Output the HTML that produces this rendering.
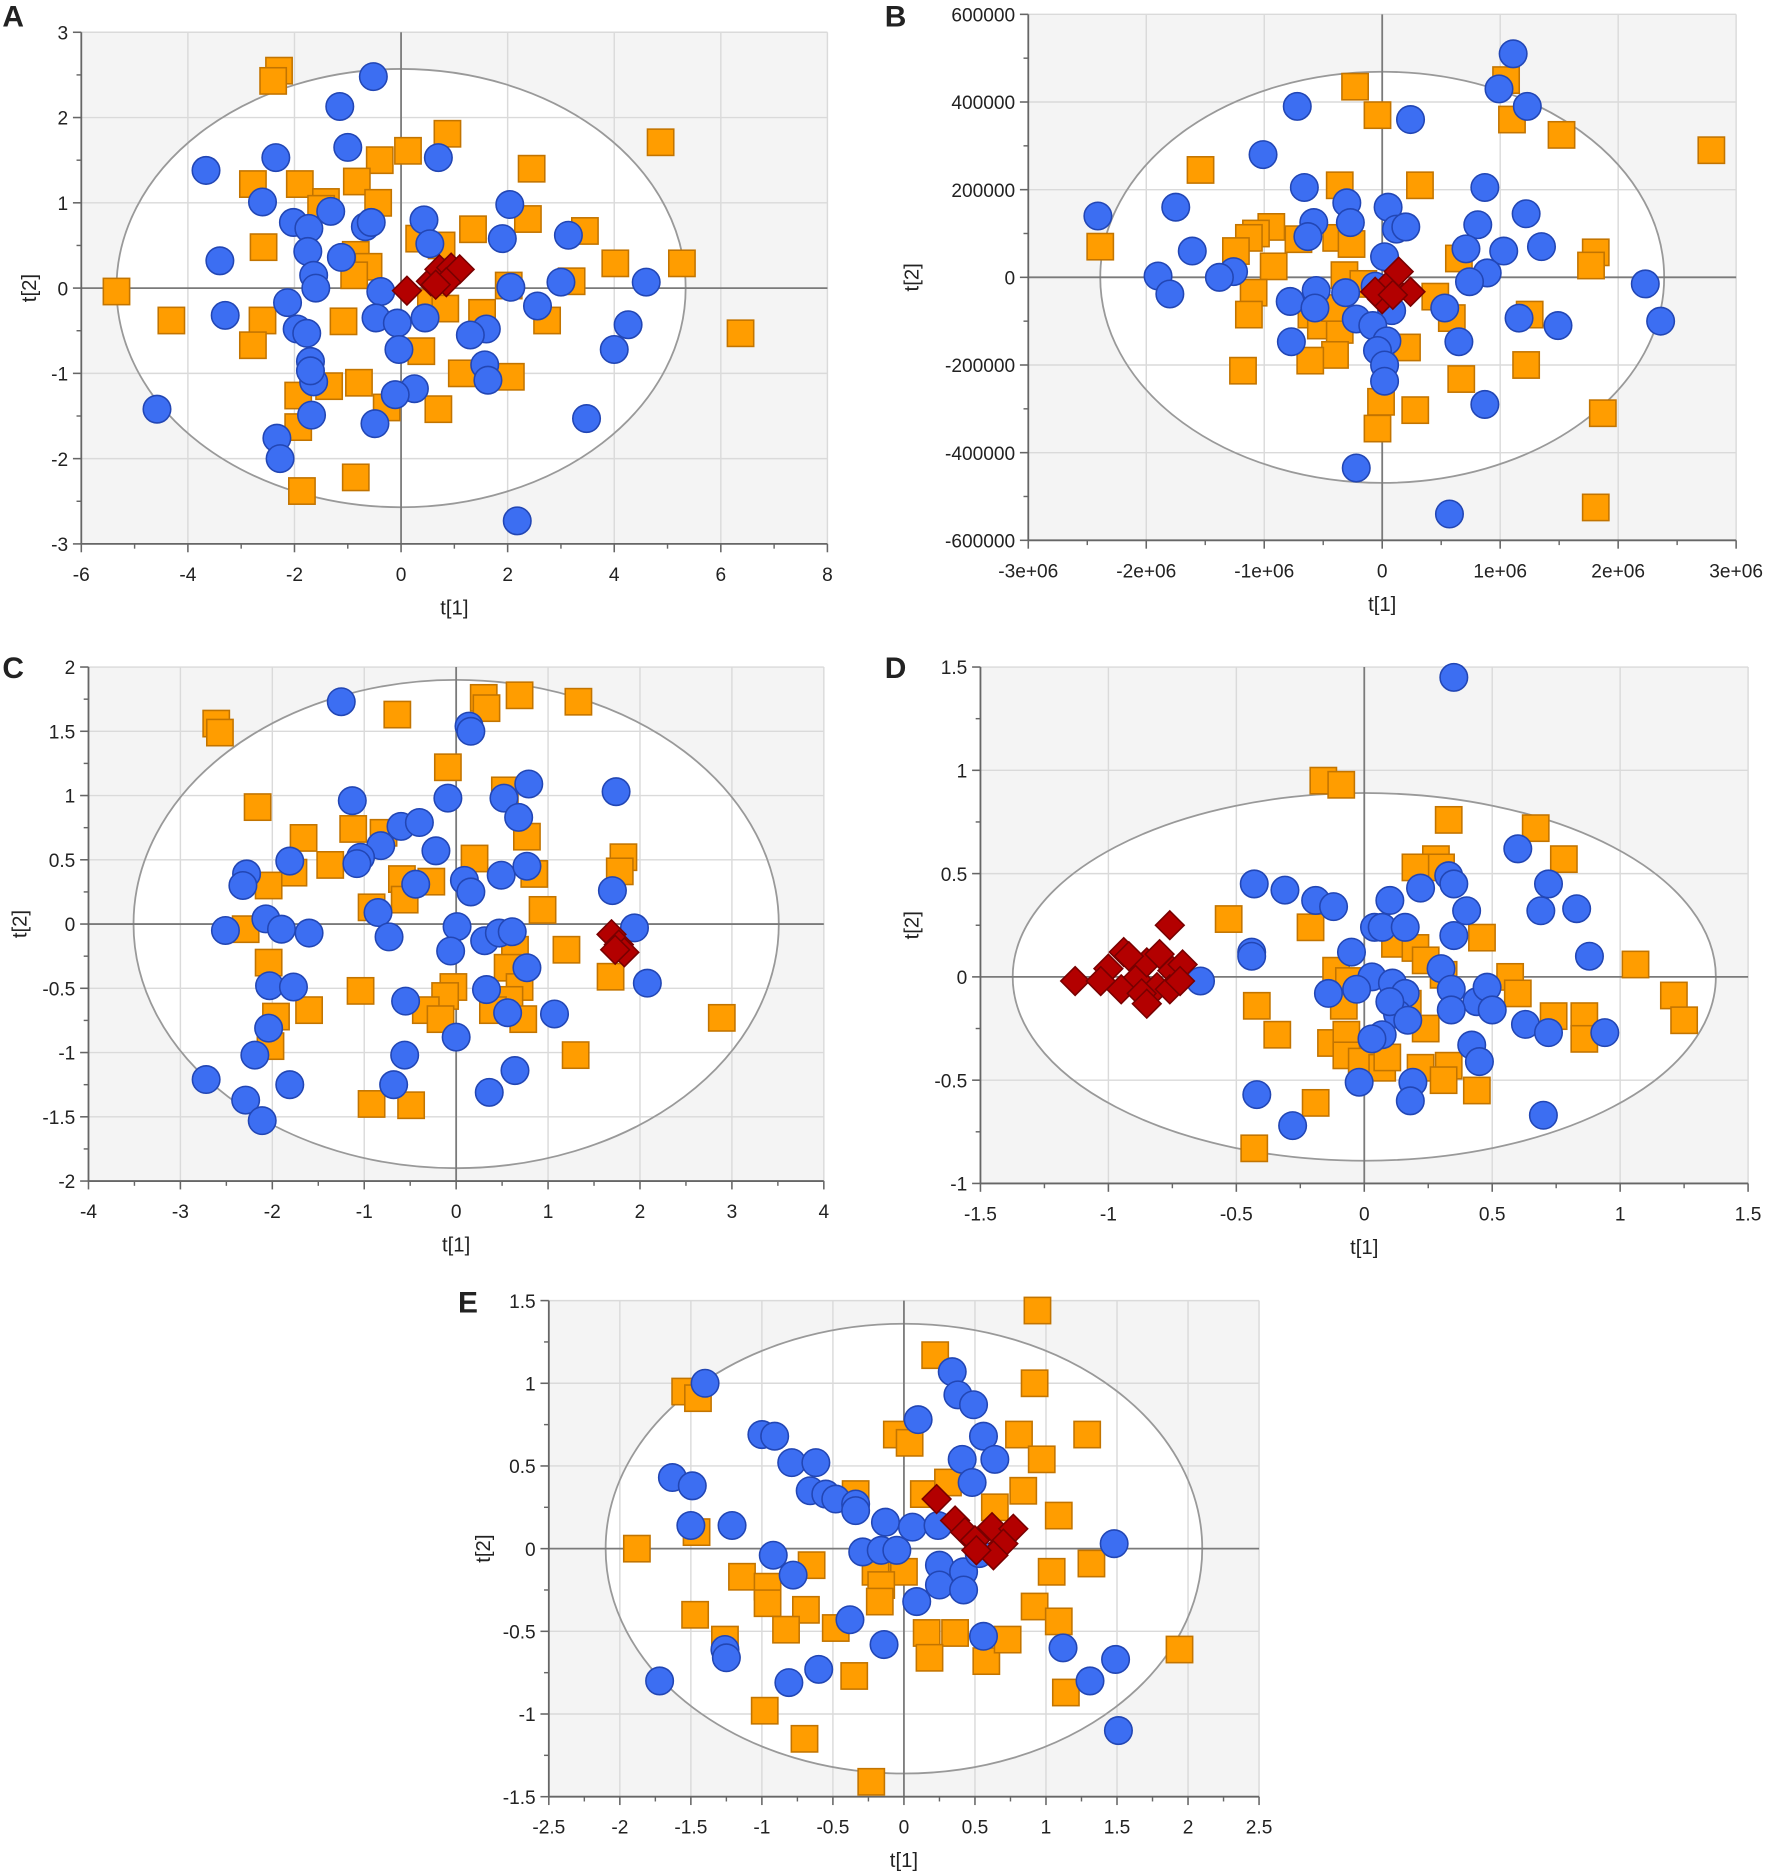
<!DOCTYPE html>
<html><head><meta charset="utf-8">
<style>
html,body{margin:0;padding:0;background:#fff;}
svg{display:block;}
text{font-family:"Liberation Sans",sans-serif;fill:#222;}
</style></head>
<body>
<svg id="fig" width="1772" height="1872" viewBox="0 0 1482 1566" preserveAspectRatio="none" xmlns="http://www.w3.org/2000/svg"></svg>
<script>
// ---------- DATA ----------
const aXTicks=[-6,-4,-2,0,2,4,6,8];
const aYTicks=[-3,-2,-1,0,1,2,3];
const aBlue=[[-0.52,2.48],[-1.15,2.13],[-1.0,1.65],[-2.35,1.53],[-3.66,1.38],[0.7,1.53],[-2.6,1.01],[-2.02,0.77],[-1.73,0.7],[-1.32,0.9],[-0.67,0.72],[-0.56,0.77],[0.43,0.8],[2.04,0.98],[0.54,0.52],[1.9,0.58],[3.14,0.62],[-3.4,0.32],[-1.75,0.43],[-1.12,0.36],[-1.64,0.15],[-1.6,0.0],[-2.13,-0.17],[-0.38,-0.04],[2.06,0.01],[3.0,0.07],[4.6,0.07],[2.56,-0.21],[-3.3,-0.32],[-1.95,-0.48],[-1.77,-0.53],[-0.47,-0.35],[-0.07,-0.41],[0.45,-0.35],[1.6,-0.48],[1.3,-0.55],[4.26,-0.43],[4.0,-0.72],[-1.7,-0.86],[-0.04,-0.72],[1.57,-0.9],[1.63,-1.08],[-1.64,-1.1],[-1.7,-0.97],[0.25,-1.18],[-0.11,-1.25],[-1.68,-1.49],[-0.49,-1.59],[3.48,-1.53],[-4.58,-1.42],[-2.33,-1.76],[-2.27,-2.0],[2.18,-2.73]];
const aOrange=[[-2.29,2.55],[-2.4,2.43],[4.87,1.71],[0.87,1.81],[-0.4,1.5],[0.13,1.61],[2.45,1.4],[-2.78,1.22],[-1.9,1.22],[-0.83,1.25],[-1.41,1.01],[-0.43,1.0],[-1.5,0.93],[1.35,0.69],[2.38,0.81],[3.45,0.67],[-2.58,0.48],[0.34,0.58],[0.76,0.5],[-0.85,0.39],[-0.61,0.25],[-0.88,0.15],[4.02,0.29],[5.27,0.29],[-5.34,-0.04],[-4.31,-0.38],[-2.6,-0.38],[-2.78,-0.67],[-1.08,-0.39],[2.02,0.03],[3.2,0.08],[2.74,-0.38],[0.56,-0.17],[0.83,-0.24],[1.52,-0.29],[6.37,-0.53],[0.38,-0.74],[1.14,-1.0],[2.06,-1.04],[-0.79,-1.11],[-1.35,-1.15],[-1.93,-1.26],[-1.93,-1.63],[-0.27,-1.4],[0.7,-1.42],[-0.85,-2.22],[-1.86,-2.38]];
const aRed=[[0.11,-0.03],[0.56,0.08],[0.72,0.22],[0.94,0.24],[1.1,0.22],[0.85,0.07],[0.65,0.04]];

const bXTicks=[-3e6,-2e6,-1e6,0,1e6,2e6,3e6];
const bXLabels=["-3e+06","-2e+06","-1e+06","0","1e+06","2e+06","3e+06"];
const bYTicks=[-600000,-400000,-200000,0,200000,400000,600000];
const bBlue=[[1.11e6,5.1e5],[0.99e6,4.3e5],[1.23e6,3.9e5],[-0.72e6,3.9e5],[0.24e6,3.6e5],[-1.01e6,2.8e5],[-0.66e6,2.05e5],[0.87e6,2.05e5],[-1.75e6,1.6e5],[-0.3e6,1.7e5],[0.05e6,1.6e5],[1.22e6,1.45e5],[0.81e6,1.2e5],[-0.58e6,1.25e5],[-0.27e6,1.25e5],[0.12e6,1.1e5],[0.2e6,1.15e5],[-0.63e6,0.93e5],[-2.41e6,1.4e5],[-1.61e6,0.6e5],[0.71e6,0.65e5],[1.03e6,0.6e5],[1.35e6,0.7e5],[0.02e6,0.47e5],[-1.9e6,0.03e5],[-1.26e6,0.13e5],[-1.38e6,0.0],[-1.8e6,-0.38e5],[0.89e6,0.1e5],[0.74e6,-0.1e5],[2.23e6,-0.15e5],[2.36e6,-1.0e5],[1.16e6,-0.93e5],[1.49e6,-1.1e5],[-0.56e6,-0.3e5],[-0.78e6,-0.55e5],[-0.57e6,-0.7e5],[-0.31e6,-0.35e5],[-0.22e6,-0.95e5],[0.08e6,-0.76e5],[0.53e6,-0.7e5],[-0.77e6,-1.47e5],[-0.08e6,-1.1e5],[0.04e6,-1.45e5],[0.65e6,-1.47e5],[-0.04e6,-1.67e5],[0.02e6,-2.0e5],[0.02e6,-2.37e5],[0.87e6,-2.9e5],[-0.22e6,-4.35e5],[0.57e6,-5.4e5],[-0.06e6,-0.2e5]];
const bOrange=[[-0.23e6,4.35e5],[-0.04e6,3.7e5],[1.05e6,4.5e5],[1.1e6,3.6e5],[1.52e6,3.25e5],[2.79e6,2.9e5],[-1.54e6,2.45e5],[0.32e6,2.1e5],[-0.36e6,2.1e5],[-0.94e6,1.15e5],[-1.07e6,1.0e5],[-1.13e6,0.9e5],[-1.24e6,0.6e5],[-2.39e6,0.7e5],[-0.71e6,0.87e5],[-0.39e6,0.9e5],[-0.26e6,0.76e5],[0.65e6,0.43e5],[-0.92e6,0.25e5],[-0.32e6,0.05e5],[-0.16e6,-0.15e5],[1.81e6,0.57e5],[1.77e6,0.27e5],[-1.09e6,-0.35e5],[-1.13e6,-0.85e5],[-0.6e6,-0.85e5],[-0.52e6,-1.1e5],[-0.36e6,-1.2e5],[0.45e6,-0.44e5],[0.59e6,-0.93e5],[1.25e6,-0.85e5],[-0.4e6,-1.77e5],[-0.61e6,-1.9e5],[0.21e6,-1.6e5],[-1.18e6,-2.13e5],[0.67e6,-2.32e5],[1.22e6,-2.0e5],[-0.01e6,-2.84e5],[0.28e6,-3.03e5],[-0.04e6,-3.45e5],[1.87e6,-3.1e5],[1.81e6,-5.25e5],[-0.4e6,-0.7e5]];
const bRed=[[0,-0.5e5],[0.06e6,-0.15e5],[0.14e6,0.13e5],[0.24e6,-0.33e5],[-0.06e6,-0.33e5],[0.09e6,-0.4e5]];

const cXTicks=[-4,-3,-2,-1,0,1,2,3,4];
const cYTicks=[-2,-1.5,-1,-0.5,0,0.5,1,1.5,2];
const cBlue=[[-1.25,1.73],[0.14,1.54],[0.16,1.5],[-0.09,0.98],[1.74,1.03],[-1.13,0.96],[0.52,0.98],[0.79,1.09],[0.68,0.83],[-0.6,0.76],[-0.4,0.79],[-0.82,0.61],[-1.04,0.52],[-1.08,0.47],[-1.81,0.49],[-0.22,0.57],[-2.28,0.39],[-2.32,0.3],[0.09,0.34],[0.16,0.25],[-0.44,0.31],[0.49,0.38],[0.77,0.45],[1.7,0.26],[-0.85,0.09],[-2.07,0.04],[-2.51,-0.05],[-1.9,-0.04],[-1.6,-0.07],[-0.73,-0.1],[0.01,-0.02],[0.31,-0.13],[0.47,-0.07],[0.61,-0.06],[1.94,-0.03],[-0.06,-0.21],[0.77,-0.34],[2.08,-0.46],[-2.03,-0.48],[-1.77,-0.49],[0.33,-0.51],[-0.55,-0.6],[0.56,-0.69],[1.07,-0.7],[-2.04,-0.81],[0.0,-0.88],[-2.19,-1.02],[-0.56,-1.02],[-2.72,-1.21],[-1.81,-1.25],[-0.68,-1.25],[0.64,-1.14],[0.36,-1.31],[-2.29,-1.37],[-2.11,-1.53]];
const cOrange=[[-2.61,1.56],[-2.57,1.49],[-0.64,1.63],[0.3,1.76],[0.69,1.78],[1.33,1.73],[0.33,1.68],[-0.09,1.22],[-2.16,0.91],[0.53,1.04],[-1.66,0.67],[-1.12,0.74],[-0.79,0.71],[0.77,0.68],[1.82,0.52],[1.78,0.41],[0.2,0.51],[-1.37,0.46],[-1.77,0.4],[-2.04,0.3],[-0.59,0.35],[-0.27,0.33],[0.85,0.39],[0.94,0.11],[-0.92,0.13],[-0.56,0.19],[-2.29,-0.04],[-2.04,-0.3],[0.64,-0.2],[0.56,-0.34],[1.2,-0.2],[1.68,-0.41],[-1.04,-0.52],[-0.03,-0.49],[-0.12,-0.56],[0.69,-0.49],[0.58,-0.59],[-0.33,-0.67],[-0.17,-0.74],[0.4,-0.67],[0.73,-0.74],[-1.6,-0.67],[-1.96,-0.72],[-2.02,-0.95],[2.89,-0.73],[1.3,-1.02],[-0.92,-1.4],[-0.49,-1.41]];
const cRed=[[1.69,-0.08],[1.77,-0.16],[1.83,-0.22],[1.73,-0.2]];

const dXTicks=[-1.5,-1,-0.5,0,0.5,1,1.5];
const dYTicks=[-1,-0.5,0,0.5,1,1.5];
const dBlue=[[0.35,1.45],[-0.43,0.45],[-0.31,0.42],[-0.19,0.37],[-0.12,0.34],[0.6,0.62],[0.72,0.45],[0.83,0.33],[0.69,0.32],[0.22,0.43],[0.1,0.37],[0.33,0.49],[0.35,0.45],[0.4,0.32],[0.04,0.24],[0.07,0.24],[0.16,0.24],[0.35,0.2],[-0.44,0.12],[-0.44,0.1],[-0.05,0.12],[0.88,0.1],[-0.64,-0.02],[0.03,0.0],[0.11,-0.03],[0.3,0.04],[0.34,-0.06],[0.44,-0.12],[0.48,-0.05],[-0.14,-0.08],[-0.03,-0.06],[0.16,-0.08],[0.13,-0.18],[0.1,-0.12],[0.17,-0.21],[0.34,-0.16],[0.5,-0.16],[0.07,-0.28],[0.03,-0.3],[0.63,-0.23],[0.72,-0.27],[0.94,-0.27],[0.42,-0.33],[0.45,-0.41],[-0.02,-0.51],[0.19,-0.51],[0.18,-0.6],[-0.42,-0.57],[-0.28,-0.72],[0.7,-0.67]];
const dOrange=[[-0.16,0.95],[-0.09,0.93],[0.67,0.72],[0.33,0.76],[0.78,0.57],[0.28,0.57],[0.3,0.53],[0.2,0.53],[-0.53,0.28],[-0.21,0.24],[0.46,0.19],[1.06,0.06],[0.12,0.16],[0.2,0.14],[0.24,0.08],[-0.11,0.03],[-0.06,-0.02],[0.57,0.0],[0.31,0.01],[0.6,-0.08],[1.21,-0.09],[1.25,-0.21],[-0.42,-0.14],[-0.08,-0.14],[0.17,-0.13],[0.24,-0.25],[-0.34,-0.28],[-0.13,-0.32],[-0.07,-0.28],[-0.07,-0.38],[-0.01,-0.41],[0.07,-0.44],[0.09,-0.39],[0.33,-0.43],[0.22,-0.44],[0.74,-0.19],[0.86,-0.19],[0.86,-0.3],[0.31,-0.5],[0.44,-0.55],[-0.19,-0.61],[-0.43,-0.83]];
const dRed=[[-1.13,-0.02],[-0.76,0.25],[-0.94,0.12],[-1.0,0.04],[-0.89,-0.01],[-0.85,0.07],[-0.81,-0.05],[-0.95,-0.06],[-0.87,-0.08],[-0.75,0.03],[-0.71,0.06],[-0.76,-0.06],[-0.85,-0.13],[-0.92,0.1],[-1.03,-0.02],[-0.8,0.11],[-0.72,-0.02]];

const eXTicks=[-2.5,-2,-1.5,-1,-0.5,0,0.5,1,1.5,2,2.5];
const eYTicks=[-1.5,-1,-0.5,0,0.5,1,1.5];
const eBlue=[[-1.4,1.0],[-1.63,0.43],[-1.49,0.38],[-1.0,0.69],[-0.91,0.68],[-0.79,0.52],[-0.62,0.52],[-0.66,0.35],[-0.55,0.33],[-0.48,0.3],[-0.34,0.27],[-0.34,0.23],[0.34,1.07],[0.38,0.93],[0.49,0.87],[0.1,0.78],[0.56,0.68],[0.41,0.54],[0.64,0.54],[0.48,0.4],[-1.5,0.14],[-1.21,0.14],[-0.13,0.16],[0.06,0.13],[0.24,0.14],[-0.92,-0.04],[-0.29,-0.02],[-0.16,-0.01],[-0.05,-0.01],[0.25,-0.1],[0.42,-0.14],[0.53,-0.03],[1.48,0.03],[-0.78,-0.16],[0.25,-0.22],[0.42,-0.25],[0.09,-0.32],[-0.38,-0.43],[-0.14,-0.58],[0.56,-0.53],[-1.26,-0.61],[-1.25,-0.66],[1.12,-0.6],[1.49,-0.67],[-0.6,-0.73],[-0.81,-0.81],[-1.72,-0.8],[1.31,-0.8],[1.51,-1.1]];
const eOrange=[[0.94,1.44],[0.22,1.17],[0.92,1.0],[-1.54,0.95],[-1.45,0.91],[-0.05,0.69],[0.04,0.64],[0.81,0.69],[1.29,0.69],[0.97,0.54],[0.14,0.33],[-0.34,0.33],[0.31,0.4],[0.64,0.25],[0.84,0.35],[1.09,0.2],[-1.88,0.0],[-1.46,0.1],[-0.11,-0.13],[0.0,-0.14],[-0.65,-0.1],[-1.14,-0.17],[-0.96,-0.23],[-0.96,-0.33],[-0.69,-0.37],[-0.2,-0.14],[-0.16,-0.22],[-0.17,-0.32],[1.04,-0.14],[1.32,-0.09],[-1.47,-0.4],[-1.26,-0.55],[-0.83,-0.49],[-0.48,-0.48],[0.16,-0.51],[0.36,-0.51],[0.18,-0.66],[0.58,-0.68],[0.73,-0.55],[0.92,-0.35],[1.09,-0.44],[1.14,-0.87],[1.94,-0.61],[-0.35,-0.77],[-0.98,-0.98],[-0.7,-1.15],[-0.23,-1.41]];
const eRed=[[0.23,0.3],[0.36,0.17],[0.43,0.1],[0.5,0.05],[0.62,0.13],[0.77,0.12],[0.7,0.03],[0.63,-0.04],[0.51,-0.01]];

// ---------- DRAWING ----------
const NS="http://www.w3.org/2000/svg";
const svg=document.getElementById('fig');
function mk(tag,attrs,parent){const e=document.createElementNS(NS,tag);for(const k in attrs)e.setAttribute(k,attrs[k]);(parent||svg).appendChild(e);return e;}

function panel(cfg){
  const g=mk('g',{});
  
  
  const xs=v=>cfg.L+(v-cfg.xmin)/(cfg.xmax-cfg.xmin)*(cfg.R-cfg.L);
  const ys=v=>cfg.B-(v-cfg.ymin)/(cfg.ymax-cfg.ymin)*(cfg.B-cfg.T);
  const bg=mk('rect',{x:cfg.L,y:cfg.T,width:cfg.R-cfg.L,height:cfg.B-cfg.T,fill:'#f4f4f4'},g);
  
  
  const x0=xs(0),y0=ys(0);
  const ell=mk('ellipse',{cx:x0,cy:y0,rx:xs(cfg.erx)-x0,ry:y0-ys(cfg.ery),fill:'#fff',stroke:'none'},g);
  
  
  cfg.xt.forEach(v=>{if(v!==0)mk('line',{x1:xs(v),x2:xs(v),y1:cfg.T,y2:cfg.B,stroke:'#dadada','stroke-width':1.2},g);});
  cfg.yt.forEach(v=>{if(v!==0)mk('line',{x1:cfg.L,x2:cfg.R,y1:ys(v),y2:ys(v),stroke:'#dadada','stroke-width':1.2},g);});
  const el2=mk('ellipse',{cx:x0,cy:y0,rx:xs(cfg.erx)-x0,ry:y0-ys(cfg.ery),fill:'none',stroke:'#999','stroke-width':1.5},g);
  
  
  mk('line',{x1:x0,x2:x0,y1:cfg.T,y2:cfg.B,stroke:'#7a7a7a','stroke-width':1.5},g);
  mk('line',{x1:cfg.L,x2:cfg.R,y1:y0,y2:y0,stroke:'#7a7a7a','stroke-width':1.5},g);
  // axes
  const ax=mk('line',{x1:cfg.L,x2:cfg.R,y1:cfg.B,y2:cfg.B,stroke:'#666','stroke-width':1.5},g);
  
  
  const ay=mk('line',{x1:cfg.L,x2:cfg.L,y1:cfg.T,y2:cfg.B,stroke:'#666','stroke-width':1.5},g);
  
  
  const xstep=cfg.xt[1]-cfg.xt[0], ystep=cfg.yt[1]-cfg.yt[0];
  cfg.xt.forEach((v,i)=>{
    mk('line',{x1:xs(v),x2:xs(v),y1:cfg.B,y2:cfg.B+7,stroke:'#666','stroke-width':1.3},g);
    if(i<cfg.xt.length-1)mk('line',{x1:xs(v+xstep/2),x2:xs(v+xstep/2),y1:cfg.B,y2:cfg.B+4,stroke:'#666','stroke-width':1.2},g);
    const t=mk('text',{x:xs(v),y:cfg.B+31,'text-anchor':'middle','font-size':16},g);
    t.textContent=cfg.xl?cfg.xl[i]:String(v);
    
    
  });
  cfg.yt.forEach((v,i)=>{
    mk('line',{x1:cfg.L-7,x2:cfg.L,y1:ys(v),y2:ys(v),stroke:'#666','stroke-width':1.3},g);
    if(i<cfg.yt.length-1)mk('line',{x1:cfg.L-4,x2:cfg.L,y1:ys(v+ystep/2),y2:ys(v+ystep/2),stroke:'#666','stroke-width':1.2},g);
    const t=mk('text',{x:cfg.L-11,y:ys(v)+6,'text-anchor':'end','font-size':16},g);
    t.textContent=String(v);
    
    
  });
  const xt=mk('text',{x:(cfg.L+cfg.R)/2,y:cfg.B+59,'text-anchor':'middle','font-size':17},g);
  xt.textContent='t[1]';
  
  
  const yt=mk('text',{x:0,y:0,'text-anchor':'middle','font-size':17,transform:`translate(${cfg.ytx},${(cfg.T+cfg.B)/2}) rotate(-90)`},g);
  yt.textContent='t[2]';
  
  
  const lt=mk('text',{x:cfg.lx,y:cfg.ly,'font-size':25,'font-weight':'bold'},g);
  lt.textContent=cfg.id;
  
  
  // marks
  cfg.orange.forEach(p=>{
    const r=mk('rect',{x:xs(p[0])-11,y:ys(p[1])-11,width:22,height:22,fill:'#ff9d00',stroke:'#c27400','stroke-width':1.3},g);
    
    
  });
  cfg.blue.forEach(p=>{
    const c=mk('circle',{cx:xs(p[0]),cy:ys(p[1]),r:11.5,fill:'#3c6ef2',stroke:'#2246b4','stroke-width':1.3},g);
    
    
  });
  cfg.red.forEach(p=>{
    const x=xs(p[0]),y=ys(p[1]),s=12;
    const d=mk('polygon',{points:`${x},${y-s} ${x+s},${y} ${x},${y+s} ${x-s},${y}`,fill:'#b30000',stroke:'#780000','stroke-width':1.3},g);
    
    
  });
}

panel({id:'A',L:68,R:692,T:27,B:455,xmin:-6,xmax:8,ymin:-3,ymax:3,xt:aXTicks,yt:aYTicks,erx:5.34,ery:2.57,ytx:30,lx:2,ly:22,blue:aBlue,orange:aOrange,red:aRed});
panel({id:'B',L:860,R:1452,T:12,B:452,xmin:-3e6,xmax:3e6,ymin:-600000,ymax:600000,xt:bXTicks,xl:bXLabels,yt:bYTicks,erx:2.39e6,ery:4.69e5,ytx:768,lx:740,ly:22,blue:bBlue,orange:bOrange,red:bRed});
panel({id:'C',L:74,R:689,T:558,B:988,xmin:-4,xmax:4,ymin:-2,ymax:2,xt:cXTicks,yt:cYTicks,erx:3.51,ery:1.9,ytx:22,lx:2,ly:567,blue:cBlue,orange:cOrange,red:cRed});
panel({id:'D',L:820,R:1462,T:558,B:990,xmin:-1.5,xmax:1.5,ymin:-1,ymax:1.5,xt:dXTicks,yt:dYTicks,erx:1.374,ery:0.89,ytx:768,lx:740,ly:567,blue:dBlue,orange:dOrange,red:dRed});
panel({id:'E',L:459,R:1053,T:1088,B:1503,xmin:-2.5,xmax:2.5,ymin:-1.5,ymax:1.5,xt:eXTicks,yt:eYTicks,erx:2.1,ery:1.36,ytx:410,lx:383,ly:1098,blue:eBlue,orange:eOrange,red:eRed});
</script>
</body></html>
